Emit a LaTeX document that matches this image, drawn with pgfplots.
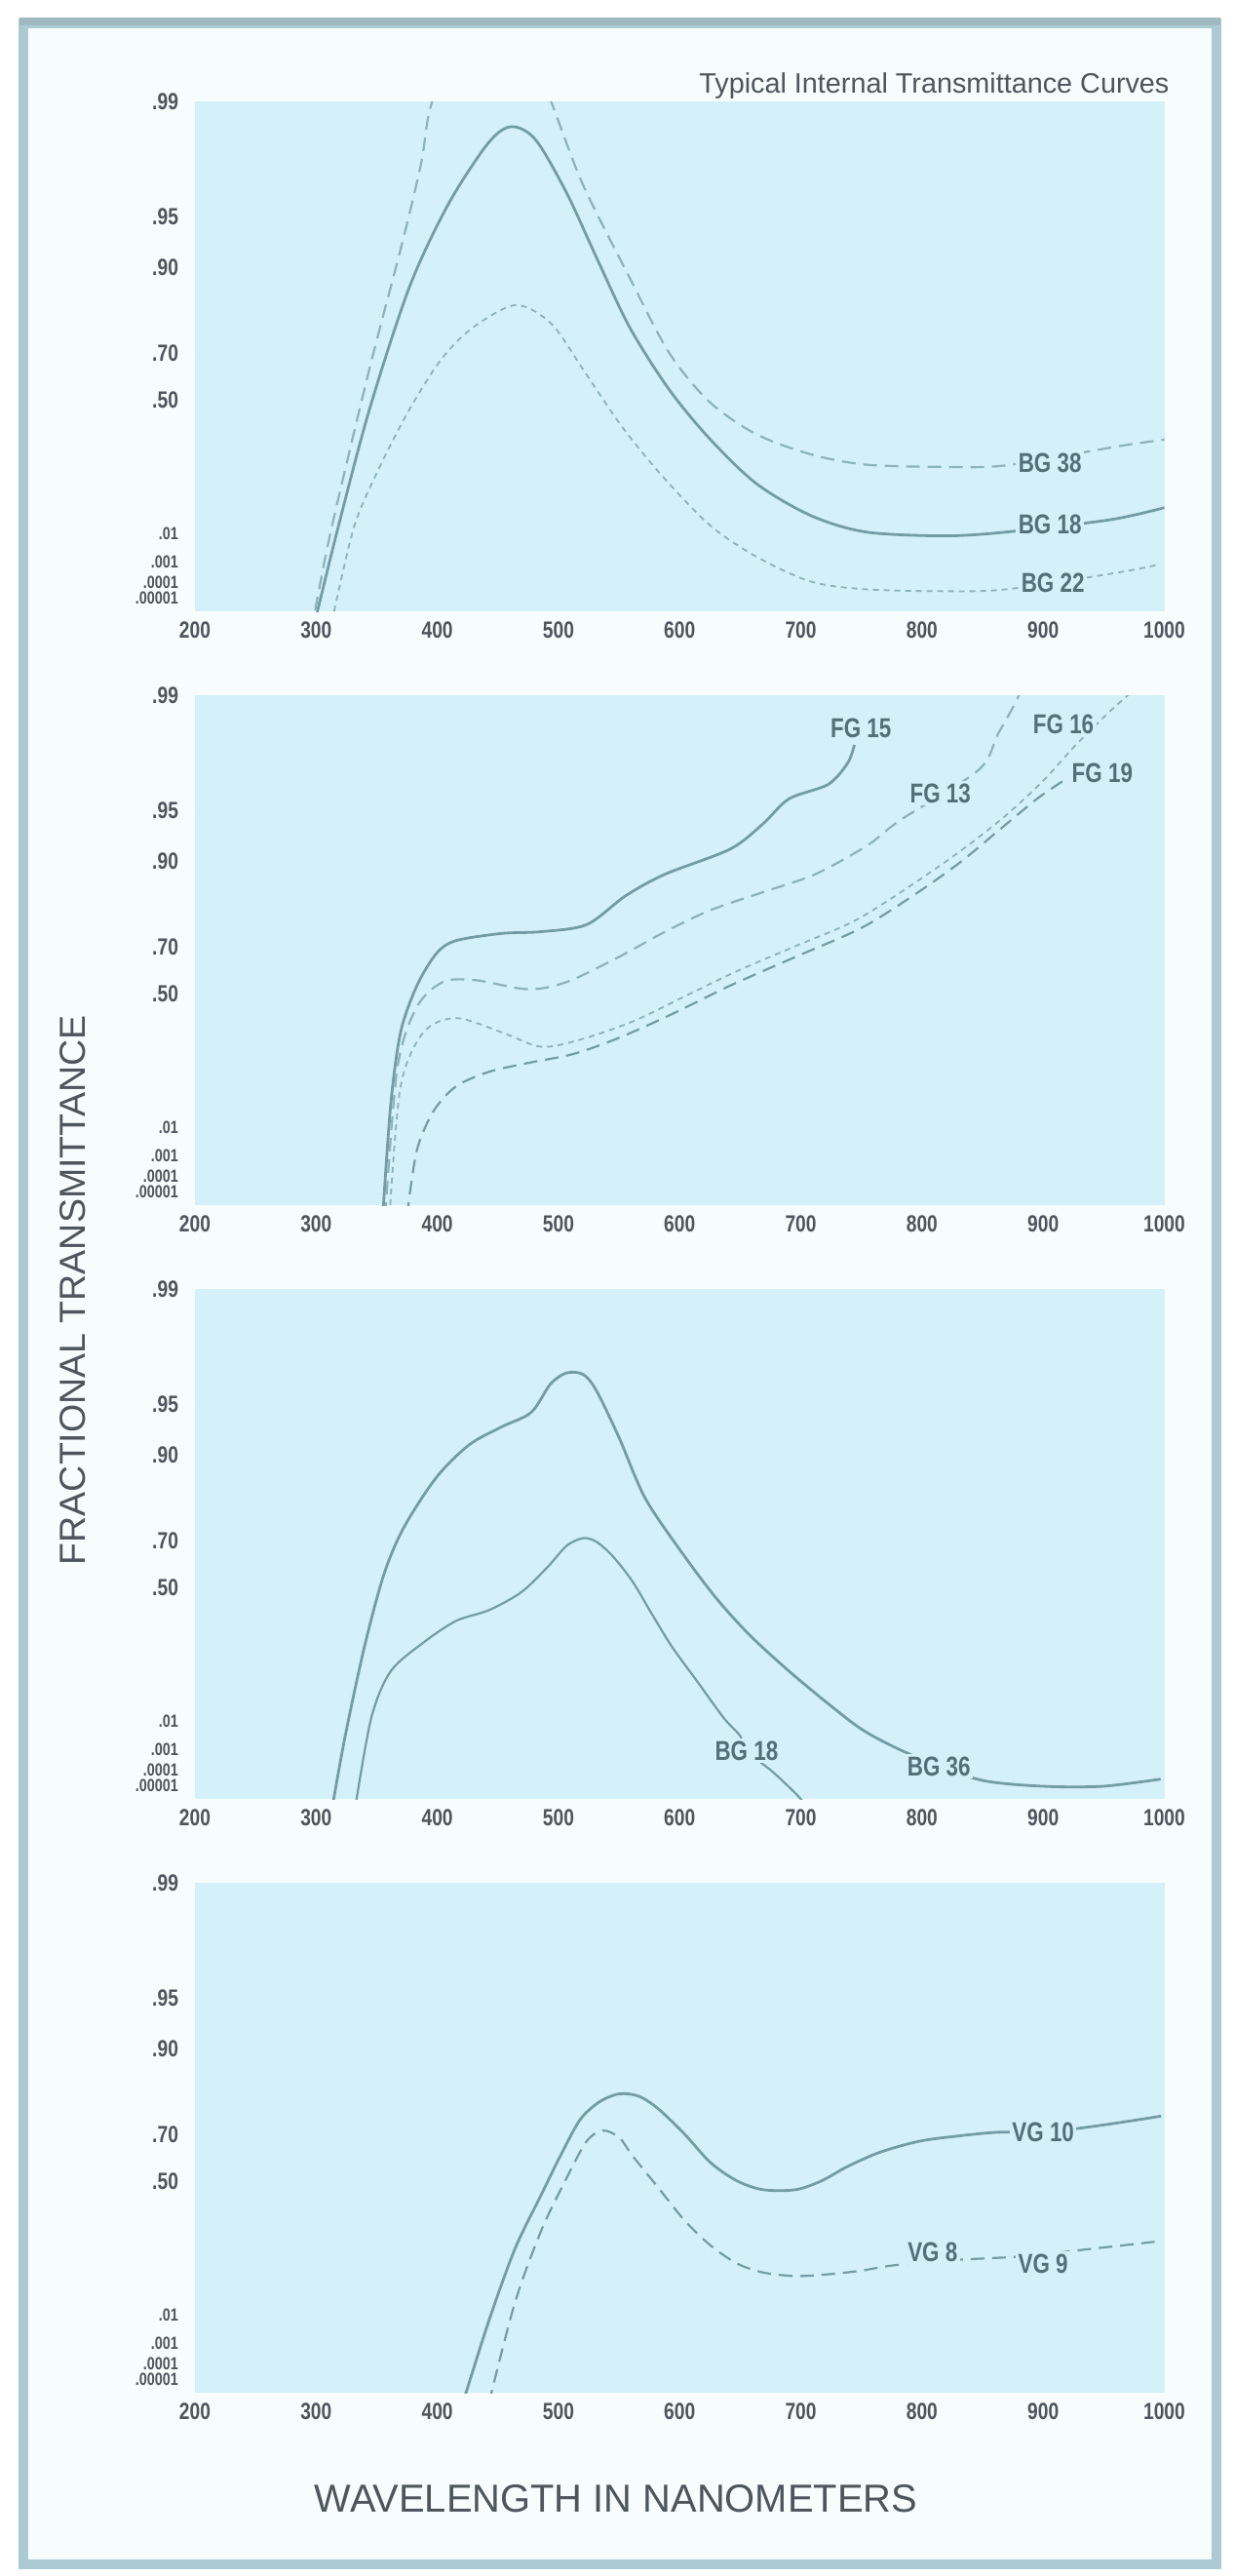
\documentclass[border=0pt]{standalone}
\usepackage{fontspec}
\setmainfont{Liberation Sans}
\newfontfamily\narrow[FakeStretch=0.8]{Liberation Sans}
\usepackage{graphicx}
\usepackage{pgfplots}
\pgfplotsset{compat=1.18}

\definecolor{panelbg}{RGB}{212,241,250}
\definecolor{paper}{RGB}{247,252,253}
\definecolor{framec}{RGB}{172,202,210}
\definecolor{frametop}{RGB}{160,184,192}
\definecolor{ink}{RGB}{76,86,92}
\definecolor{lblink}{RGB}{84,112,118}
\definecolor{curve}{RGB}{116,156,165}
\definecolor{curvelt}{RGB}{140,178,186}

% Transmittance is plotted on the diabatic scale  1 - log10(log10(1/T))
\pgfplotsset{
  panel/.style={
    scale only axis, width=497.25pt, height=261.3pt,
    anchor=south west,
    xmin=200, xmax=1000, ymin=0.22, ymax=3.36,
    axis line style={draw=none}, tick style={draw=none},
    axis background/.style={fill=panelbg},
    xtick={200,300,...,1000},
    /pgf/number format/assume math mode=true,
    /pgf/number format/set thousands separator={},
    ytick={3.36,2.6522,2.3395,1.8100,1.5214,0.69897,0.52288,0.39794,0.30103},
    yticklabels={.99,.95,.90,.70,.50,
      {\fontsize{9}{9}\selectfont .01},{\fontsize{9}{9}\selectfont .001},
      {\fontsize{9}{9}\selectfont .0001},{\fontsize{9}{9}\selectfont .00001}},
    tick label style={font=\narrow\bfseries\fontsize{12}{12}\selectfont, text=ink},
    xticklabel style={yshift=-2pt},
    yticklabel style={xshift=-5pt},
    y filter/.expression={1-ln(-ln(y)/2.302585)/2.302585},
  },
  solidc/.style={color=curve, line width=1.4pt, smooth, tension=0.5},
  dashc/.style={color=curvelt, line width=1.1pt, dash pattern=on 7pt off 4pt, smooth, tension=0.5},
  dotc/.style={color=curvelt, line width=0.9pt, dash pattern=on 3pt off 2.5pt, smooth, tension=0.5},
}
\tikzset{
  lbl/.style={font=\narrow\bfseries\fontsize{14}{14}\selectfont, text=lblink, fill=panelbg, inner sep=1.2pt},
}

\begin{document}
\begin{tikzpicture}
\path[use as bounding box] (0pt,0pt) rectangle (633pt,-1321pt);
\fill[white] (0pt,0pt) rectangle (633pt,-1321pt);
\filldraw[fill=paper, draw=framec, line width=5pt] (12pt,-12pt) rectangle (624pt,-1315pt);
\draw[frametop, line width=4pt] (10pt,-11pt) -- (626pt,-11pt);

% title, axis titles
\node[anchor=west, text=ink, inner sep=0pt] at (358.5pt,-44pt)
  {\resizebox{241pt}{!}{\fontsize{13}{13}\selectfont Typical Internal Transmittance Curves}};
\node[text=ink, inner sep=0pt] at (316pt,-1281.5pt)
  {\resizebox{309pt}{14pt}{WAVELENGTH IN NANOMETERS}};
\node[text=ink, inner sep=0pt, rotate=90] at (37.5pt,-661.5pt)
  {\resizebox{282pt}{13pt}{FRACTIONAL TRANSMITTANCE}};

% ---------- panel 1 ----------
\begin{axis}[panel, at={(100pt,-313.5pt)}]
\addplot[dashc] coordinates {
 (296,1e-8) (312,0.0111) (344,0.641) (370.5,0.9255) (386.6,0.9761) (395,0.98962)
 (420,0.99636) (445,0.99742) (470,0.99636) (494,0.9900) (520,0.9682) (559,0.8842)
 (591,0.7041) (624,0.4948) (662.6,0.3271) (708,0.2246) (753.5,0.1772) (818.6,0.1674)
 (870,0.1743) (961,0.2625) (1000,0.2971)};
\addplot[solidc] coordinates {
 (299,1e-7) (318,0.01416) (344,0.4533) (377,0.8700) (409,0.9578) (442,0.9821)
 (461,0.9858) (481,0.9830) (506.6,0.9642) (533,0.9073) (559,0.7800) (591,0.5534)
 (624,0.3070) (663,0.1048) (708,0.02851) (753.5,0.01111) (818.6,0.00861) (870,0.0111)
 (955,0.0227) (1000,0.0413)};
\addplot[dotc] coordinates {
 (313,1e-7) (331,0.01416) (351,0.1519) (377,0.4533) (403,0.6764) (429,0.7800)
 (464.6,0.8353) (494,0.7916) (520,0.641) (552,0.3677) (584.6,0.1365) (624,0.01778)
 (662.6,0.00176) (708,1.135e-4) (753.5,3.93e-5) (818.6,2.96e-5) (870,3.93e-5)
 (961,3.29e-4) (994,7.6e-4)};
\node[lbl] at (rel axis cs:0.882,0.291) {BG 38};
\node[lbl] at (rel axis cs:0.882,0.171) {BG 18};
\node[lbl] at (rel axis cs:0.885,0.055) {BG 22};
\end{axis}

% ---------- panel 2 ----------
\begin{axis}[panel, at={(100pt,-618pt)}]
\addplot[solidc] coordinates {
 (355,1e-7) (361.6,0.0364) (369.7,0.3028) (383.2,0.5403) (399.4,0.6776) (415.5,0.7224)
 (453.2,0.7455) (485.6,0.7509) (523.3,0.7718) (555.6,0.8422) (587.9,0.8809)
 (641.8,0.9151) (668.8,0.9399) (690.3,0.9575) (722.6,0.9652) (738.8,0.9743) (744.2,0.9800)};
\addplot[dashc] coordinates {
 (357,1e-7) (367,0.1365) (383,0.4334) (404.7,0.5573) (431.7,0.5654) (474.8,0.5229)
 (507,0.5573) (550,0.6640) (588,0.7509) (625.6,0.8099) (668.8,0.8492) (711.9,0.8809)
 (755,0.9193) (782,0.9428) (846.6,0.9715) (862.7,0.9828) (878.9,0.98964) (885,0.99275)};
\addplot[dotc] coordinates {
 (360.6,1e-7) (369.7,0.0764) (388.6,0.3028) (415.5,0.3771) (453.2,0.3028)
 (485.6,0.2307) (518,0.2658) (561,0.3583) (604,0.4877) (647,0.6049) (695.7,0.7036)
 (744,0.7818) (787,0.8561) (830,0.9110) (868,0.9455) (900,0.9669) (927,0.9800)
 (954,0.98730) (970.5,0.99015)};
\addplot[dashc, color=curve] coordinates {
 (375,1e-7) (383,0.00161) (396.7,0.02535) (415.5,0.0764) (442.5,0.1231) (474.8,0.1579)
 (512.5,0.1973) (550,0.2748) (593,0.3956) (641.8,0.5403) (695.7,0.6640) (749.6,0.7614)
 (792.7,0.8422) (830.4,0.8971) (862.7,0.9336) (895,0.9575) (916.6,0.9669)};
\node[lbl] at (rel axis cs:0.687,0.936) {FG 15};
\node[lbl] at (rel axis cs:0.896,0.943) {FG 16};
\node[lbl] at (rel axis cs:0.769,0.808) {FG 13};
\node[lbl] at (rel axis cs:0.936,0.847) {FG 19};
\end{axis}

% ---------- panel 3 ----------
\begin{axis}[panel, at={(100pt,-922.5pt)}]
\addplot[solidc] coordinates {
 (313,1e-7) (324,0.00342) (340,0.2048) (356,0.5646) (372.4,0.7450) (399.4,0.8656)
 (426.3,0.9128) (453.2,0.9318) (477.5,0.9441) (493.6,0.9624) (507,0.9677) (520.6,0.9669)
 (531.4,0.9585) (550,0.9210) (571.8,0.8221) (604,0.6421) (631,0.4417) (658,0.2561)
 (690.3,0.1038) (722.6,0.02754) (749.6,0.00592) (776.5,0.001346) (814,1.578e-4)
 (852,2.15e-5) (900,9.2e-6) (949,9.2e-6) (997,2.82e-5)};
\addplot[solidc, line width=1.1pt] coordinates {
 (332,1e-7) (345.5,0.0123) (361.6,0.1038) (388.6,0.2214) (415.5,0.3298) (442.5,0.3855)
 (469.4,0.4781) (491,0.5965) (507,0.6835) (520.6,0.7098) (531.4,0.6966) (544.8,0.6421)
 (561,0.5312) (577,0.3668) (593.3,0.2048) (614.9,0.0711) (636.4,0.0123) (650,0.00342)
 (655,9.4e-4) (676.8,7.9e-5) (695.7,2.68e-6) (701,6.6e-7)};
\node[lbl] at (rel axis cs:0.569,0.095) {BG 18};
\node[lbl] at (rel axis cs:0.7675,0.064) {BG 36};
\end{axis}

% ---------- panel 4 ----------
\begin{axis}[panel, at={(100pt,-1227pt)}]
\addplot[solidc] coordinates {
 (421,1e-7) (442.5,0.00664) (464,0.1640) (485.6,0.4310) (501.7,0.6190) (517.9,0.7499)
 (534,0.7999) (550.2,0.8189) (566.4,0.8133) (582.5,0.7809) (604,0.7024) (625.6,0.5881)
 (647.2,0.5037) (668.8,0.4591) (695.7,0.4591) (717.2,0.5037) (738.8,0.5720)
 (765.7,0.6336) (798,0.6764) (830.4,0.6958) (862.7,0.7086) (900.4,0.7086)
 (949,0.7326) (997.4,0.7605)};
\addplot[dashc, color=curve] coordinates {
 (442.5,1e-7) (464,0.02057) (485.6,0.2466) (507,0.5209) (523.3,0.6764) (536.7,0.7147)
 (550.2,0.6896) (561,0.6190) (582.5,0.4683) (604,0.3003) (625.6,0.1793) (647.2,0.1093)
 (668.8,0.0805) (695.7,0.0706) (722.6,0.0755) (749.6,0.0857) (776.5,0.1026)
 (830.4,0.1219) (884.3,0.1352) (938,0.1640) (992,0.1959)};
\node[lbl] at (rel axis cs:0.875,0.511) {VG 10};
\node[lbl] at (rel axis cs:0.761,0.275) {VG 8};
\node[lbl] at (rel axis cs:0.875,0.2535) {VG 9};
\end{axis}
\end{tikzpicture}
\end{document}
